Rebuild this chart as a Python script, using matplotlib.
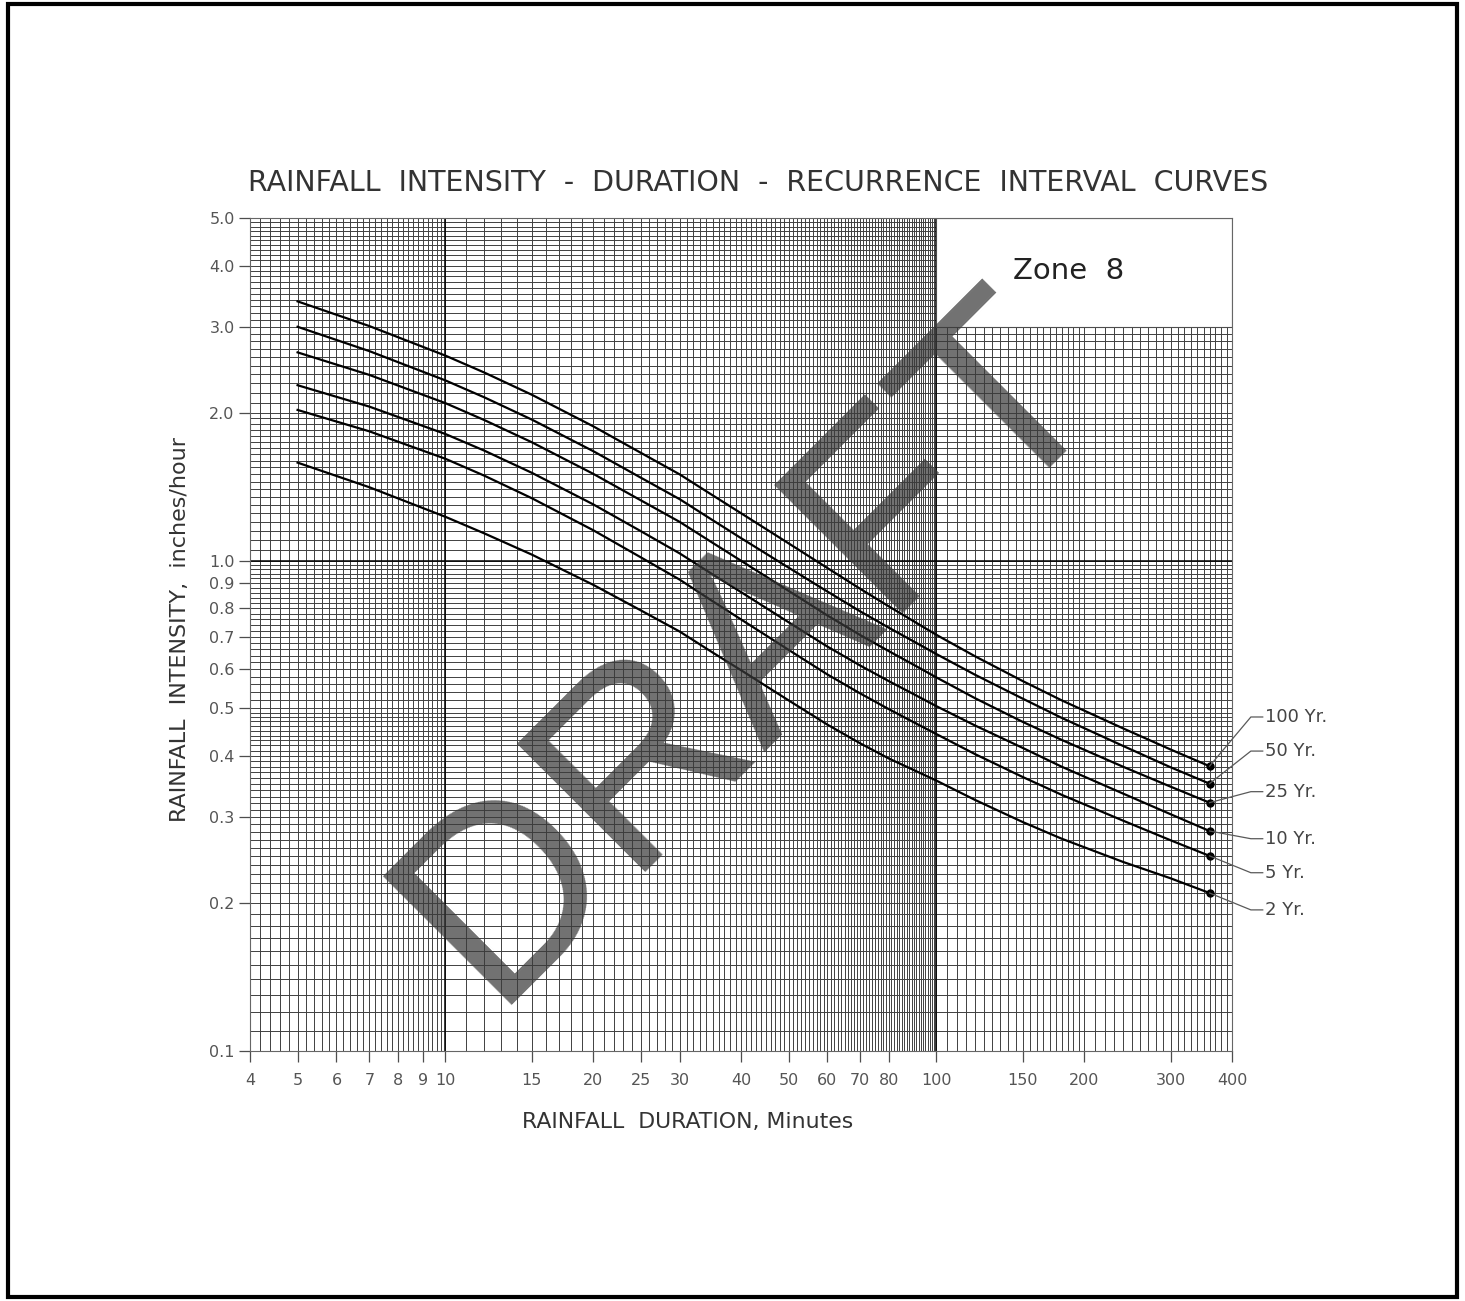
import numpy as np
import matplotlib
matplotlib.use("Agg")
import matplotlib.pyplot as plt
from matplotlib.patches import Rectangle
from matplotlib.ticker import FixedLocator, FixedFormatter, NullLocator

# durations in minutes and intensities (in/hr) for each return period
durations = [5, 7, 10, 12, 15, 20, 25, 30, 35, 40, 50, 60, 70, 80, 90, 100, 120, 150, 180, 240, 300, 360]
yr100 = [3.38, 3.01, 2.62, 2.42, 2.18, 1.88, 1.66, 1.50, 1.36, 1.25, 1.085, 0.966,
         0.876, 0.807, 0.752, 0.706, 0.638, 0.568, 0.519, 0.455, 0.412, 0.381]
yr50 = [3.00, 2.676, 2.332, 2.154, 1.940, 1.673, 1.477, 1.335, 1.210, 1.112, 0.968, 0.865,
        0.788, 0.730, 0.684, 0.645, 0.585, 0.523, 0.478, 0.419, 0.379, 0.351]
yr25 = [2.66, 2.393, 2.096, 1.936, 1.744, 1.504, 1.328, 1.20, 1.088, 1.00, 0.868, 0.773,
        0.705, 0.654, 0.613, 0.578, 0.524, 0.469, 0.431, 0.380, 0.346, 0.321]
yr10 = [2.28, 2.062, 1.813, 1.677, 1.511, 1.303, 1.149, 1.035, 0.938, 0.863, 0.749, 0.668,
        0.611, 0.568, 0.534, 0.505, 0.461, 0.415, 0.380, 0.335, 0.304, 0.281]
yr5 = [2.03, 1.836, 1.614, 1.491, 1.341, 1.154, 1.016, 0.915, 0.827, 0.759, 0.658, 0.586,
       0.536, 0.498, 0.468, 0.443, 0.403, 0.362, 0.333, 0.295, 0.269, 0.250]
yr2 = [1.585, 1.412, 1.229, 1.137, 1.029, 0.893, 0.792, 0.717, 0.650, 0.598, 0.519, 0.463,
       0.424, 0.395, 0.374, 0.356, 0.325, 0.293, 0.271, 0.243, 0.225, 0.210]

curve_names = ["100 Yr.", "50 Yr.", "25 Yr.", "10 Yr.", "5 Yr.", "2 Yr."]
curve_values = [yr100, yr50, yr25, yr10, yr5, yr2]
# where the curve labels sit on the right (intensity units)
label_levels = [0.480, 0.409, 0.338, 0.271, 0.231, 0.194]

x_ticks = [4, 5, 6, 7, 8, 9, 10, 15, 20, 25, 30, 40, 50, 60, 70, 80, 100, 150, 200, 300, 400]
y_ticks = [0.1, 0.2, 0.3, 0.4, 0.5, 0.6, 0.7, 0.8, 0.9, 1.0, 2.0, 3.0, 4.0, 5.0]
y_tick_labels = ["0.1", "0.2", "0.3", "0.4", "0.5", "0.6", "0.7", "0.8", "0.9",
                 "1.0", "2.0", "3.0", "4.0", "5.0"]

W, H = 1465, 1301
fig = plt.figure(figsize=(W / 100, H / 100), dpi=100)
ax = fig.add_axes([250 / W, 250 / H, 982 / W, 833 / H])
ax.set_xscale("log")
ax.set_yscale("log")
ax.set_xlim(4, 400)
ax.set_ylim(0.1, 5.0)

# log paper grid
xgrid = np.concatenate([np.arange(4, 10, 0.2), np.arange(10, 100, 1),
                        np.arange(100, 200, 5), np.arange(200, 401, 10)])
ygrid = np.concatenate([np.arange(0.1, 0.5, 0.01), np.arange(0.5, 1.0, 0.02),
                        np.arange(1.0, 2.0, 0.05), np.arange(2.0, 5.01, 0.1)])
ax.vlines(xgrid, 0, 1, transform=ax.get_xaxis_transform(), color="0.25", lw=0.7, zorder=1)
ax.hlines(ygrid, 0, 1, transform=ax.get_yaxis_transform(), color="0.25", lw=0.7, zorder=1)
ax.vlines([10, 100], 0, 1, transform=ax.get_xaxis_transform(), color="black", lw=1.1, zorder=1)
ax.hlines([1.0], 0, 1, transform=ax.get_yaxis_transform(), color="black", lw=1.1, zorder=1)

# blank panel for the zone title
ax.add_patch(Rectangle((100, 3.0), 300, 2.0, facecolor="white", edgecolor="0.3",
                       lw=0.8, zorder=2))
ax.text(np.sqrt(100 * 400) * 0.93, 3.9, "Zone  8", fontsize=21, ha="center", va="center",
        color="#222222", zorder=3)

for name, vals, lev in zip(curve_names, curve_values, label_levels):
    ax.plot(durations, vals, color="black", lw=1.6, zorder=4, solid_joinstyle="round")
    ax.plot(durations[-1], vals[-1], "o", color="black", ms=5, zorder=5)
    ax.plot([durations[-1], 437, 462], [vals[-1], lev, lev], color="0.35", lw=0.9,
            clip_on=False, zorder=5)
    ax.text(468, lev, name, fontsize=13, color="#444444", va="center", ha="left",
            clip_on=False)

ax.xaxis.set_major_locator(FixedLocator(x_ticks))
ax.xaxis.set_major_formatter(FixedFormatter([str(t) for t in x_ticks]))
ax.xaxis.set_minor_locator(NullLocator())
ax.yaxis.set_major_locator(FixedLocator(y_ticks))
ax.yaxis.set_major_formatter(FixedFormatter(y_tick_labels))
ax.yaxis.set_minor_locator(NullLocator())
ax.tick_params(direction="out", length=8, width=0.9, color="0.3", labelsize=11.5,
               labelcolor="#555555")
ax.tick_params(axis="x", pad=8)
ax.tick_params(axis="y", pad=3)
for s in ax.spines.values():
    s.set_color("0.4")
    s.set_linewidth(0.8)

fig.text(758 / W, 1 - 183 / H, "RAINFALL  INTENSITY  -  DURATION  -  RECURRENCE  INTERVAL  CURVES",
         fontsize=20.5, ha="center", va="center", color="#333333")
fig.text(688 / W, 1 - 1122 / H, "RAINFALL  DURATION, Minutes", fontsize=15.8,
         ha="center", va="center", color="#333333")
fig.text(180 / W, 1 - 630 / H, "RAINFALL  INTENSITY,  inches/hour", fontsize=16,
         ha="center", va="center", rotation=90, color="#333333")

# watermark
fig.text(751 / W, 1 - 647 / H, "DRAFT", fontsize=189, family="Liberation Sans",
         rotation=45, ha="center", va="center", color="#3a3a3a", alpha=0.72,
         rotation_mode="anchor", zorder=10)

# page frame
fig.add_artist(Rectangle((8 / W, 4 / H), 1449 / W, 1293 / H, transform=fig.transFigure,
                         fill=False, edgecolor="black", lw=3))

fig.savefig("out.png", dpi=100, facecolor="white")
